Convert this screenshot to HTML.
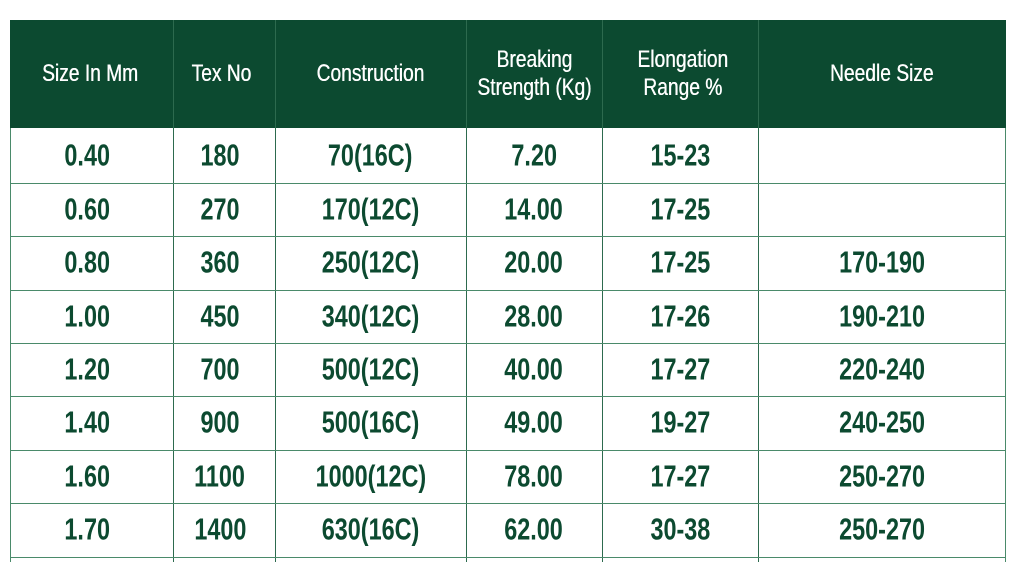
<!DOCTYPE html>
<html><head><style>
body{margin:0;width:1024px;height:562px;background:#fff;overflow:hidden;position:relative;font-family:"Liberation Sans",sans-serif}
.hd{position:absolute;left:10px;top:20px;width:996px;height:108px;background:#0c4a30}
.c{position:absolute;display:flex;align-items:center;justify-content:center;text-align:center}
.c span{display:inline-block;white-space:nowrap}
.h{color:#fff;font-size:24px;line-height:28px;top:20px;height:108px}
.h span{transform:scale(0.8,1.0);text-shadow:0.4px 0 0 #fff}
.d{color:#0c4a30;font-size:30px;font-weight:bold}
.d span{transform:scale(0.78,1.03)}
.vl{position:absolute;width:1px;background:#2d6a4e;top:20px;height:542px}
.hl{position:absolute;height:1px;background:#4a8a6a;left:10px;width:996px}
</style></head><body>
<div class="hd"></div>
<div class="vl" style="left:10px;top:128px;height:434px;background:#4a8a6a"></div>
<div class="vl" style="left:173px"></div>
<div class="vl" style="left:275px"></div>
<div class="vl" style="left:466px"></div>
<div class="vl" style="left:602px"></div>
<div class="vl" style="left:758px"></div>
<div class="vl" style="left:1005px;top:128px;height:434px;background:#4a8a6a"></div>
<div class="hl" style="top:183px"></div>
<div class="hl" style="top:236px"></div>
<div class="hl" style="top:290px"></div>
<div class="hl" style="top:343px"></div>
<div class="hl" style="top:396px"></div>
<div class="hl" style="top:450px"></div>
<div class="hl" style="top:503px"></div>
<div class="hl" style="top:557px"></div>
<div class="c h" style="left:10px;width:160px"><span>Size In Mm</span></div>
<div class="c h" style="left:173px;width:96px"><span>Tex No</span></div>
<div class="c h" style="left:275px;width:191px"><span>Construction</span></div>
<div class="c h" style="left:466px;width:136px"><span>Breaking<br>Strength (Kg)</span></div>
<div class="c h" style="left:602px;width:162px"><span>Elongation<br>Range %</span></div>
<div class="c h" style="left:758px;width:248px"><span>Needle Size</span></div>
<div id="rows"></div>
<script>
var r=[["0.40","180","70(16C)","7.20","15-23",""],["0.60","270","170(12C)","14.00","17-25",""],["0.80","360","250(12C)","20.00","17-25","170-190"],["1.00","450","340(12C)","28.00","17-26","190-210"],["1.20","700","500(12C)","40.00","17-27","220-240"],["1.40","900","500(16C)","49.00","19-27","240-250"],["1.60","1100","1000(12C)","78.00","17-27","250-270"],["1.70","1400","630(16C)","62.00","30-38","250-270"]];
var ys=[128,183,236,290,343,396,450,503,557],xs=[10,173,275,466,602,758,1006],off=[-8,-8,0,0,0,0],h="";
for(var i=0;i<r.length;i++)for(var j=0;j<6;j++)h+='<div class="c d" style="left:'+xs[j]+'px;width:'+(xs[j+1]-xs[j]+off[j])+'px;top:'+ys[i]+'px;height:'+(ys[i+1]-ys[i])+'px"><span>'+r[i][j]+'</span></div>';
document.getElementById("rows").innerHTML=h;
</script>
</body></html>
